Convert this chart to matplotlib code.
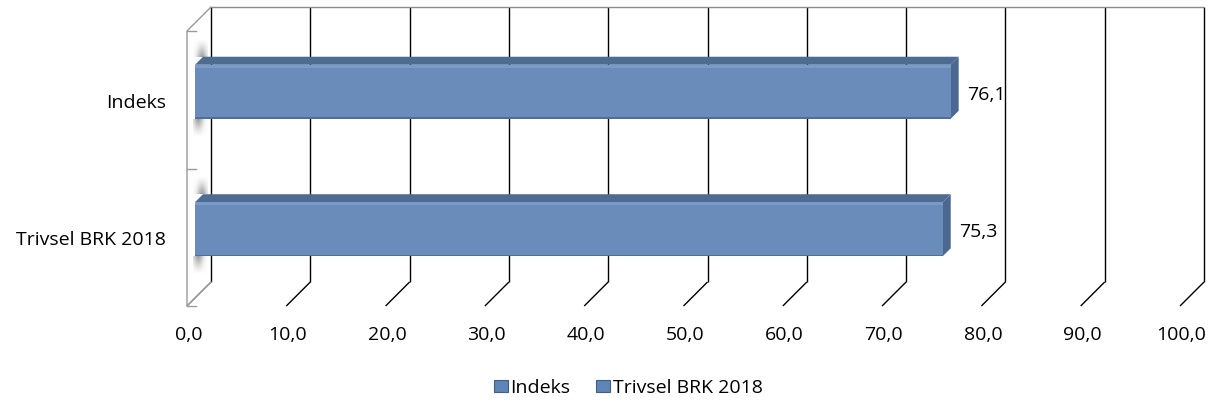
import matplotlib
matplotlib.use("Agg")
import matplotlib.pyplot as plt
from matplotlib.patches import Polygon, Rectangle, Patch
from matplotlib.collections import PolyCollection
import numpy as np

# ---- data ----
categories = ["Trivsel BRK 2018", "Indeks"]   # bottom -> top
values = [75.3, 76.1]
value_labels = ["75,3", "76,1"]
xticks = [0, 10, 20, 30, 40, 50, 60, 70, 80, 90, 100]
xtick_labels = ["0,0", "10,0", "20,0", "30,0", "40,0", "50,0", "60,0", "70,0", "80,0", "90,0", "100,0"]
legend_labels = ["Indeks", "Trivsel BRK 2018"]

W, H, DPI = 1211, 407, 100
plt.rcParams['font.family'] = ['Open Sans', 'DejaVu Sans']
FS = 14

fig = plt.figure(figsize=(W / DPI, H / DPI), dpi=DPI)
ax = fig.add_axes([211 / W, 1 - 282 / H, 993 / W, 275 / H])
ax.set_xlim(0, 100)
ax.set_ylim(0, len(categories))
ax.axis('off')


def px(dx, dy):
    """pixel offset (right, down) -> data offset"""
    bb = ax.get_window_extent()
    x0, x1 = ax.get_xlim()
    y0, y1 = ax.get_ylim()
    return dx * (x1 - x0) / bb.width, -dy * (y1 - y0) / bb.height


DEPTH = 24
fdx, fdy = px(-DEPTH, DEPTH)
n = len(categories)

# back wall gridlines
ax.vlines(xticks, 0, n, color='black', lw=1.0, zorder=1, clip_on=False)
ax.hlines(n, 0, 100, color='#8c8c8c', lw=1.0, zorder=1, clip_on=False)

# floor diagonals
for t in xticks:
    ax.plot([t, t + fdx], [0, fdy], color=('#8c8c8c' if t == 0 else 'black'),
            lw=1.0, zorder=1, clip_on=False, solid_capstyle='butt')

# left side wall outline
ax.plot([0, fdx, fdx, 0], [n, n + fdy, fdy, 0], color='#9a9a9a', lw=1.0,
        zorder=1, clip_on=False)
tdx, _ = px(9, 0)
for yv in range(n + 1):
    ax.plot([fdx, fdx + tdx], [yv + fdy, yv + fdy], color='#9a9a9a', lw=1.0,
            zorder=1, clip_on=False)


def soft_shadow(xa, xb, ya, yb, near_top, xc):
    """grid of small cells with alpha fading away from the bar"""
    nx, ny = 15, 18
    xs = np.linspace(xa, xb, nx + 1)
    ys = np.linspace(ya, yb, ny + 1)
    polys, cols = [], []
    for j in range(ny):
        t = (j + 0.5) / ny          # 0 at ya (bottom), 1 at yb (top)
        fade = t ** 1.3 if near_top else (1 - t) ** 1.3
        for k in range(nx):
            s = (k + 0.5) / nx
            a = 0.7 * fade * np.exp(-((s - xc) / 0.33) ** 2)
            polys.append([(xs[k], ys[j]), (xs[k + 1], ys[j]), (xs[k + 1], ys[j + 1]), (xs[k], ys[j + 1])])
            cols.append((0.45, 0.45, 0.45, a))
    ax.add_collection(PolyCollection(polys, facecolors=cols, edgecolors='none',
                                     zorder=1.5, clip_on=False))


# bars
bar_h = 0.393
bx, by = px(-8, 8)
fx, fy = px(-16, 16)
hx, hy = px(0, 3)
sh_len = px(0, -18)[1]   # positive data height of 18 px
sx0 = fdx + px(6, 0)[0]
sx1 = px(-3, 0)[0]

for i, (v, lab) in enumerate(zip(values, value_labels)):
    c = i + 0.5
    y0, y1 = c - bar_h / 2, c + bar_h / 2
    # soft shadow on side wall (above and below bar)
    soft_shadow(sx0, sx1, y1 + by, y1 + by + sh_len, near_top=False, xc=0.6)
    soft_shadow(sx0, sx1, y0 + fy - sh_len, y0 + fy, near_top=True, xc=0.35)
    # top face
    ax.add_patch(Polygon([(bx, y1 + by), (v + bx, y1 + by), (v + fx, y1 + fy), (fx, y1 + fy)],
                         closed=True, facecolor='#4e6b91', edgecolor='none', zorder=3, clip_on=False))
    # side face
    ax.add_patch(Polygon([(v + bx, y1 + by), (v + bx, y0 + by), (v + fx, y0 + fy), (v + fx, y1 + fy)],
                         closed=True, facecolor='#4a6890', edgecolor='none', zorder=3, clip_on=False))
    # front face
    ax.add_patch(Rectangle((fx, y0 + fy), v, bar_h, facecolor='#6a8cba', edgecolor='none',
                           zorder=4, clip_on=False))
    ax.add_patch(Rectangle((fx, y1 + fy + hy), v, -hy, facecolor='#7a9bc8', edgecolor='none',
                           zorder=4.5, clip_on=False))
    ax.add_patch(Rectangle((fx, y0 + fy), v, px(0, -1.5)[1], facecolor='#4f6e99',
                           edgecolor='none', zorder=4.5, clip_on=False))
    # value label
    lx, ly = px(0, 19)
    ax.text(v + lx, c + ly, lab, ha='left', va='center', fontsize=FS, zorder=6, clip_on=False)

# category labels
for i, cat in enumerate(categories):
    lx, ly = px(-45, 27)
    ax.text(lx, i + 0.5 + ly, cat, ha='right', va='center', fontsize=FS, clip_on=False)

# x tick labels (front plane)
for t, lab in zip(xticks, xtick_labels):
    lx, ly = px(-24 + 1.5, 53)
    ax.text(t + lx, ly, lab, ha='center', va='center', fontsize=FS, clip_on=False)

ax.set_xlim(0, 100)
ax.set_ylim(0, n)

handles = [Patch(facecolor='#5f84b6', edgecolor='#3f5f8a', lw=0.8) for _ in legend_labels]
fig.legend(handles, legend_labels, loc='center', bbox_to_anchor=(628 / W, 1 - 388 / H),
           ncol=2, frameon=False, fontsize=FS, handlelength=0.75, handleheight=0.6,
           handletextpad=0.12, columnspacing=1.3, borderaxespad=0)

fig.savefig('out.png', dpi=DPI)
